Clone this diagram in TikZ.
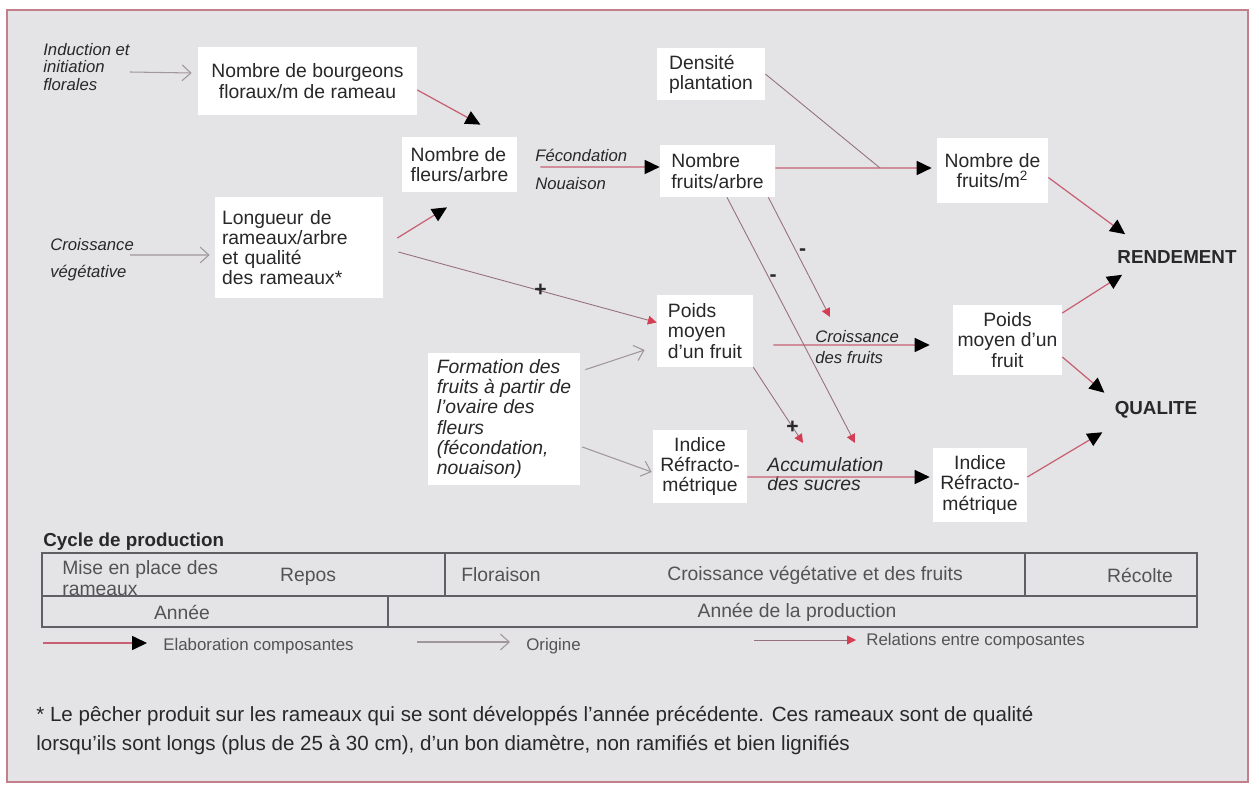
\documentclass[tikz,border=0pt]{standalone}
\usepackage{fontspec}
\setmainfont{Liberation Sans}
\usetikzlibrary{arrows.meta}
\definecolor{fond}{RGB}{228,228,231}
\definecolor{cadre}{RGB}{196,128,138}
\definecolor{rose}{RGB}{198,96,114}
\definecolor{mauve}{RGB}{150,112,122}
\definecolor{rouge}{RGB}{212,62,84}
\definecolor{gris}{RGB}{160,150,156}
\definecolor{trait}{RGB}{95,95,100}
\definecolor{encre}{RGB}{40,40,42}
\newcommand\boitefont{\fontsize{11}{11.5}\selectfont}
\newcommand\petitfont{\fontsize{9.5}{10}\selectfont}

\begin{document}
\begin{tikzpicture}[x=0.02cm,y=-0.02cm,
  boite/.style={fill=white,inner sep=0pt,font=\boitefont,text=encre},
  etiq/.style={inner sep=0pt,align=left,anchor=west,text=encre},
  titre/.style={inner sep=0pt,font=\fontsize{10.7}{12}\selectfont\bfseries,text=encre},
  signe/.style={inner sep=0pt,font=\fontsize{12}{12}\selectfont\bfseries,text=encre},
  case/.style={inner sep=0pt,font=\fontsize{11}{12}\selectfont,text=encre!80},
  legende/.style={inner sep=0pt,anchor=west,font=\fontsize{9.6}{10}\selectfont,text=encre!80},
  note/.style={inner sep=0pt,anchor=west,font=\fontsize{11.7}{13}\selectfont,text=encre},
  elab/.style={draw=rose,line width=0.7pt,-{Triangle[color=black,length=8.5pt,width=8pt]}},
  relation/.style={draw=mauve,line width=0.5pt,-{Triangle[color=rouge,length=5pt,width=5pt]}},
  origine/.style={draw=gris,line width=0.6pt,-{Straight Barb[length=5pt,width=9pt]}}]
\useasboundingbox (0,0) rectangle (1258,787);
\fill[white] (0,0) rectangle (1258,787);
\path[fill=fond,draw=cadre,line width=1pt] (7,10) rectangle (1248,782);

\node[boite,minimum width=4.38cm,minimum height=1.36cm,align=center] (1) at (307.5,81) {Nombre de bourgeons\\floraux/m de rameau};
\node[boite,minimum width=2.16cm,minimum height=1.04cm,align=left] (2) at (711,74) {Densité\\plantation};
\node[boite,minimum width=2.3cm,minimum height=1.1cm,align=left] (3) at (459.5,164.5) {Nombre de\\fleurs/arbre};
\node[boite,minimum width=2.3cm,minimum height=1.04cm,align=left] (4) at (717.5,171) {Nombre\\fruits/arbre};
\node[boite,minimum width=2.22cm,minimum height=1.3cm,align=center] (5) at (992.5,170.5) {Nombre de\\fruits/m\textsuperscript{2}};
\node[boite,minimum width=3.36cm,minimum height=2.02cm,text width=3.08cm,align=left] (6) at (299,247.5) {Longueur de\\rameaux/arbre\\et qualité\\des rameaux*};
\node[boite,minimum width=1.92cm,minimum height=1.44cm,align=left] (7) at (705,331) {Poids\\moyen\\d'un fruit};
\node[boite,minimum width=3.04cm,minimum height=2.64cm,align=left,font=\boitefont\itshape] (8) at (504,419) {Formation des\\fruits à partir de\\l'ovaire des\\fleurs\\(fécondation,\\nouaison)};
\node[boite,minimum width=1.88cm,minimum height=1.46cm,align=center] (9) at (700,466.5) {Indice\\Réfracto-\\métrique};
\node[boite,minimum width=2.18cm,minimum height=1.4cm,align=center] (10) at (1007.5,340) {Poids\\moyen d'un\\fruit};
\node[boite,minimum width=1.88cm,minimum height=1.48cm,align=center] (11) at (980,485) {Indice\\Réfracto-\\métrique};

\node[etiq,font=\petitfont\itshape] (12) at (43,67) {Induction et\\initiation\\florales};
\node[etiq,font=\fontsize{9.5}{15.5}\selectfont\itshape] (13) at (50,260) {Croissance\\végétative};
\node[etiq,font=\fontsize{9.5}{16}\selectfont\itshape] (14) at (535,169) {Fécondation\\Nouaison};
\node[etiq,font=\fontsize{9.5}{11.5}\selectfont\itshape] (15) at (815,347) {Croissance\\des fruits};
\node[etiq,font=\fontsize{11}{10.5}\selectfont\itshape] (16) at (767,474) {Accumulation\\des sucres};
\node[titre] (17) at (1177,257) {RENDEMENT};
\node[titre] (18) at (1156,410) {QUALITE};

\coordinate (19) at (880,168);
\coordinate (20) at (830,317);
\coordinate (21) at (855,443);
\coordinate (22) at (803,443);

\path[elab] ([yshift=-0.18cm]1.east) -- ([xshift=0.42cm,yshift=0.24cm]3.north);
\path[elab] ([xshift=0.28cm,yshift=0.19cm]6.east) -- ([xshift=-0.25cm,yshift=-0.3cm]3.south);
\path[elab] ([xshift=0.46cm,yshift=-0.05cm]3.east) -- ([yshift=0.08cm]4.west);
\path[elab] ([yshift=0.06cm]4.east) -- ([xshift=-0.1cm,yshift=0.05cm]5.west);
\path[draw=mauve,line width=0.5pt] (2.east) -- (19);
\path[elab] ([yshift=-0.14cm]5.east) -- ([xshift=0.16cm,yshift=0.32cm]17.north west);
\path[elab] ([yshift=0.54cm]10.east) -- ([xshift=0.1cm,yshift=-0.22cm]17.south west);
\path[elab] ([yshift=-0.34cm]10.east) -- ([xshift=-0.2cm,yshift=0.17cm]18.north west);
\path[elab] ([yshift=0.16cm]11.east) -- ([xshift=-0.24cm,yshift=-0.27cm]18.south west);
\path[elab] ([xshift=0.4cm,yshift=-0.28cm]7.east) -- ([xshift=-0.46cm,yshift=-0.1cm]10.west);
\path[elab] ([yshift=-0.21cm]9.east) -- ([xshift=-0.06cm,yshift=0.16cm]11.west);

\path[relation] ([xshift=0.3cm,yshift=-0.09cm]6.east) -- node[signe,pos=0.55] {+} (7.170);
\path[relation] ([xshift=-0.14cm]4.south east) -- node[signe,pos=0.46,xshift=0.12cm] {-} (20);
\path[relation] ([xshift=0.19cm]4.south) -- node[signe,pos=0.33,xshift=0.08cm] {-} (21);
\path[relation] (7.south east) -- node[signe,pos=0.79] {+} (22);

\path[origine] ([yshift=-0.1cm]12.east) -- ([xshift=-0.12cm,yshift=0.16cm]1.west);
\path[origine] ([xshift=-0.08cm,yshift=0.1cm]13.east) -- ([xshift=-0.1cm,yshift=-0.15cm]6.west);
\path[origine] ([xshift=0.1cm,yshift=-0.34cm]8.north east) -- ([xshift=-0.24cm,yshift=-0.38cm]7.west);
\path[origine] ([xshift=0.04cm,yshift=-0.56cm]8.east) -- ([xshift=-0.02cm,yshift=-0.11cm]9.west);

\node[titre,anchor=west] (23) at (43,542) {Cycle de production};
\draw[trait,line width=0.6pt] (42,553) rectangle (1197,627);
\draw[trait,line width=0.6pt] (42,596) -- (1197,596);
\draw[trait,line width=0.6pt] (445,553) -- (445,596);
\draw[trait,line width=0.6pt] (1025,553) -- (1025,596);
\draw[trait,line width=0.6pt] (388,596) -- (388,627);
\node[case,align=left,anchor=west] (24) at (62,578.5) {Mise en place des\\rameaux};
\node[case] (25) at (308,577) {Repos};
\node[case] (26) at (501,575) {Floraison};
\node[case] (27) at (815,575) {Croissance végétative et des fruits};
\node[case] (28) at (1140,575) {Récolte};
\node[case] (29) at (182,612) {Année};
\node[case] (30) at (797,612) {Année de la production};

\coordinate (31) at (43,643);
\coordinate (32) at (147,643);
\path[elab] (31) -- (32);
\node[legende] (33) at (163,646) {Elaboration composantes};
\coordinate (34) at (417,642);
\coordinate (35) at (510,642);
\path[origine] (34) -- (35);
\node[legende] (36) at (526,646) {Origine};
\coordinate (37) at (754,640);
\coordinate (38) at (856,640);
\path[relation] (37) -- (38);
\node[legende] (39) at (866,641) {Relations entre composantes};

\node[note] (40) at (36,716) {* Le pêcher produit sur les rameaux qui se sont développés l'année précédente. Ces rameaux sont de qualité};
\node[note] (41) at (36,745) {lorsqu'ils sont longs (plus de 25 à 30 cm), d'un bon diamètre, non ramifiés et bien lignifiés};
\end{tikzpicture}
\end{document}
